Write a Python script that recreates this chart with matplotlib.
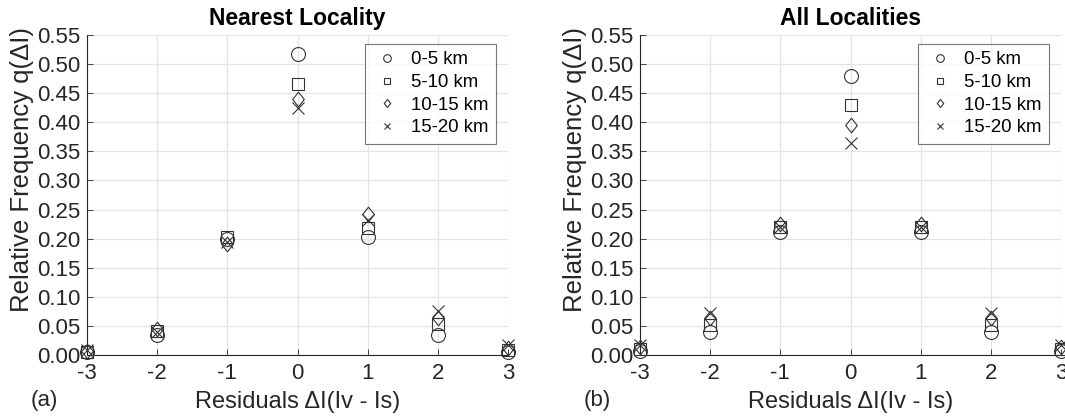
import matplotlib
matplotlib.use("Agg")
import matplotlib.pyplot as plt
from matplotlib.path import Path

plt.rcParams['font.family'] = ['Liberation Sans', 'DejaVu Sans']

residuals = [-3, -2, -1, 0, 1, 2, 3]
labels = ["0-5 km", "5-10 km", "10-15 km", "15-20 km"]

# nearest locality
near_0_5 = [0.005, 0.035, 0.200, 0.518, 0.202, 0.035, 0.005]
near_5_10 = [0.006, 0.042, 0.203, 0.465, 0.218, 0.053, 0.008]
near_10_15 = [0.007, 0.045, 0.190, 0.440, 0.243, 0.063, 0.012]
near_15_20 = [0.008, 0.040, 0.195, 0.425, 0.232, 0.075, 0.018]

# all localities
all_0_5 = [0.007, 0.040, 0.212, 0.480, 0.212, 0.040, 0.007]
all_5_10 = [0.010, 0.052, 0.220, 0.430, 0.220, 0.052, 0.010]
all_10_15 = [0.013, 0.063, 0.225, 0.395, 0.225, 0.063, 0.013]
all_15_20 = [0.017, 0.073, 0.220, 0.365, 0.220, 0.073, 0.017]

yticks = [0.00, 0.05, 0.10, 0.15, 0.20, 0.25, 0.30, 0.35, 0.40, 0.45, 0.50, 0.55]

# matlab style diamond, a bit taller than wide
diamond = Path([(0, -1), (0.8, 0), (0, 1), (-0.8, 0), (0, -1)],
               [Path.MOVETO, Path.LINETO, Path.LINETO, Path.LINETO, Path.CLOSEPOLY])
markers = ["o", "s", diamond, "x"]
sizes = [10, 8, 10.5, 9]

ink = "#333333"

fig = plt.figure(figsize=(10.65, 4.18), dpi=100)
ax1 = fig.add_axes([0.0817, 0.1507, 0.3953, 0.7656])
ax2 = fig.add_axes([0.601, 0.1507, 0.3953, 0.7656])

def draw_panel(ax, series, title, tag):
    for vals, m, s, lab in zip(series, markers, sizes, labels):
        if m == "x":
            ax.plot(residuals, vals, m, ms=s, mew=0.8, color=ink,
                    label=lab, clip_on=False, zorder=3)
        else:
            ax.plot(residuals, vals, ls="none", marker=m, ms=s, mew=0.8,
                    mfc="none", mec=ink, label=lab, clip_on=False, zorder=3)
    ax.set_xlim(-3, 3)
    ax.set_ylim(0, 0.55)
    ax.set_xticks(residuals)
    ax.set_xticklabels([str(r) for r in residuals])
    ax.set_yticks(yticks)
    ax.set_yticklabels(["%.2f" % t for t in yticks])
    ax.grid(True, color="#e4e4e4", lw=0.9)
    ax.set_axisbelow(True)
    ax.spines["top"].set_visible(False)
    ax.spines["right"].set_visible(False)
    ax.spines["left"].set_color("#262626")
    ax.spines["bottom"].set_color("#262626")
    ax.tick_params(direction="in", length=4, width=0.6, color="#262626",
                   labelsize=16, labelcolor="#262626")
    ax.tick_params(axis="y", pad=5)
    ax.tick_params(axis="x", pad=6)
    ax.set_title(title, fontsize=16.5, fontweight="bold", pad=7)
    ax.set_xlabel("Residuals \u0394I(Iv - Is)", fontsize=17, color="#262626")
    ax.xaxis.set_label_coords(0.5, -0.112)
    ax.set_ylabel("Relative Frequency q(\u0394I)", fontsize=18.5, color="#262626")
    ax.yaxis.set_label_coords(-0.127, 0.58)
    ax.text(-0.133, -0.141, tag, transform=ax.transAxes, fontsize=16,
            color="#262626", ha="left", va="center")
    leg = ax.legend(loc="upper right", bbox_to_anchor=(0.972, 0.972),
                    fontsize=13.4, frameon=True, fancybox=False,
                    edgecolor="#555555", markerscale=0.55, handletextpad=0.5,
                    borderpad=0.4, labelspacing=0.3, handlelength=1.6,
                    borderaxespad=0)
    leg.get_frame().set_linewidth(0.8)

draw_panel(ax1, [near_0_5, near_5_10, near_10_15, near_15_20], "Nearest Locality", "(a)")
draw_panel(ax2, [all_0_5, all_5_10, all_10_15, all_15_20], "All Localities", "(b)")

fig.savefig("out.png", dpi=100)
